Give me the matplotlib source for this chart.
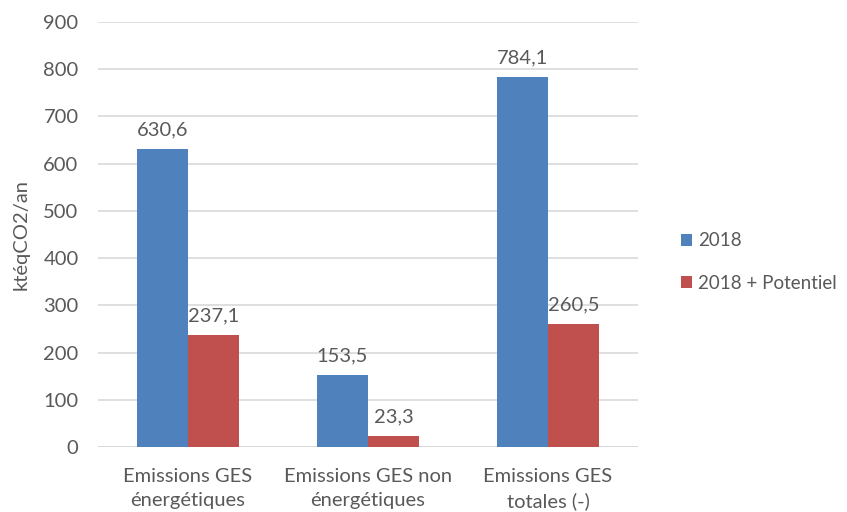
import matplotlib
matplotlib.use("Agg")
import matplotlib.pyplot as plt
import numpy as np

categories = ["Emissions GES\nénergétiques", "Emissions GES non\nénergétiques", "Emissions GES\ntotales (-)"]
series_names = ["2018", "2018 + Potentiel"]
values_2018 = [630.6, 153.5, 784.1]
values_pot = [237.1, 23.3, 260.5]
yticks = list(range(0, 901, 100))

plt.rcParams['font.family'] = ['Lato', 'DejaVu Sans']
txt = '#595959'
fs = 14.5

fig = plt.figure(figsize=(8.47, 5.12), dpi=100)
ax = fig.add_axes([98/847, 1-447/512, 540/847, 425/512])

x = np.arange(len(categories))
w = 0.285
b1 = ax.bar(x - w/2, values_2018, w, color='#4F81BD', label=series_names[0], zorder=3)
b2 = ax.bar(x + w/2, values_pot, w, color='#C0504D', label=series_names[1], zorder=3)

for bars, vals in ((b1, values_2018), (b2, values_pot)):
    for r, v in zip(bars, vals):
        ax.text(r.get_x() + r.get_width()/2, v + 22, f"{v:.1f}".replace('.', ','),
                ha='center', va='bottom', fontsize=fs, color=txt)

ax.set_xlim(-0.5, 2.5)
ax.set_ylim(0, 900)
ax.set_yticks(yticks)
ax.set_yticklabels([str(t) for t in yticks], fontsize=fs, color=txt)
ax.set_xticks(x)
ax.set_xticklabels(categories, fontsize=fs, color=txt, linespacing=1.5)
ax.tick_params(axis='y', length=0, pad=14)
ax.tick_params(axis='x', length=0, pad=15)
ax.yaxis.grid(True, color='#D9D9D9', linewidth=1.2, zorder=0)
for s in ax.spines.values():
    s.set_visible(False)
ax.axhline(0, color='#D9D9D9', linewidth=1.2, zorder=2)
ax.set_ylabel("ktéqCO2/an", fontsize=fs, color=txt, labelpad=10)

fig.legend(handles=[b1, b2], loc='center left', bbox_to_anchor=(664/847, 1-262/512),
           frameon=False, fontsize=13.5, labelcolor=txt, handlelength=0.6,
           handleheight=0.6, handletextpad=0.3, labelspacing=1.35)

fig.savefig("out.png", dpi=100)
